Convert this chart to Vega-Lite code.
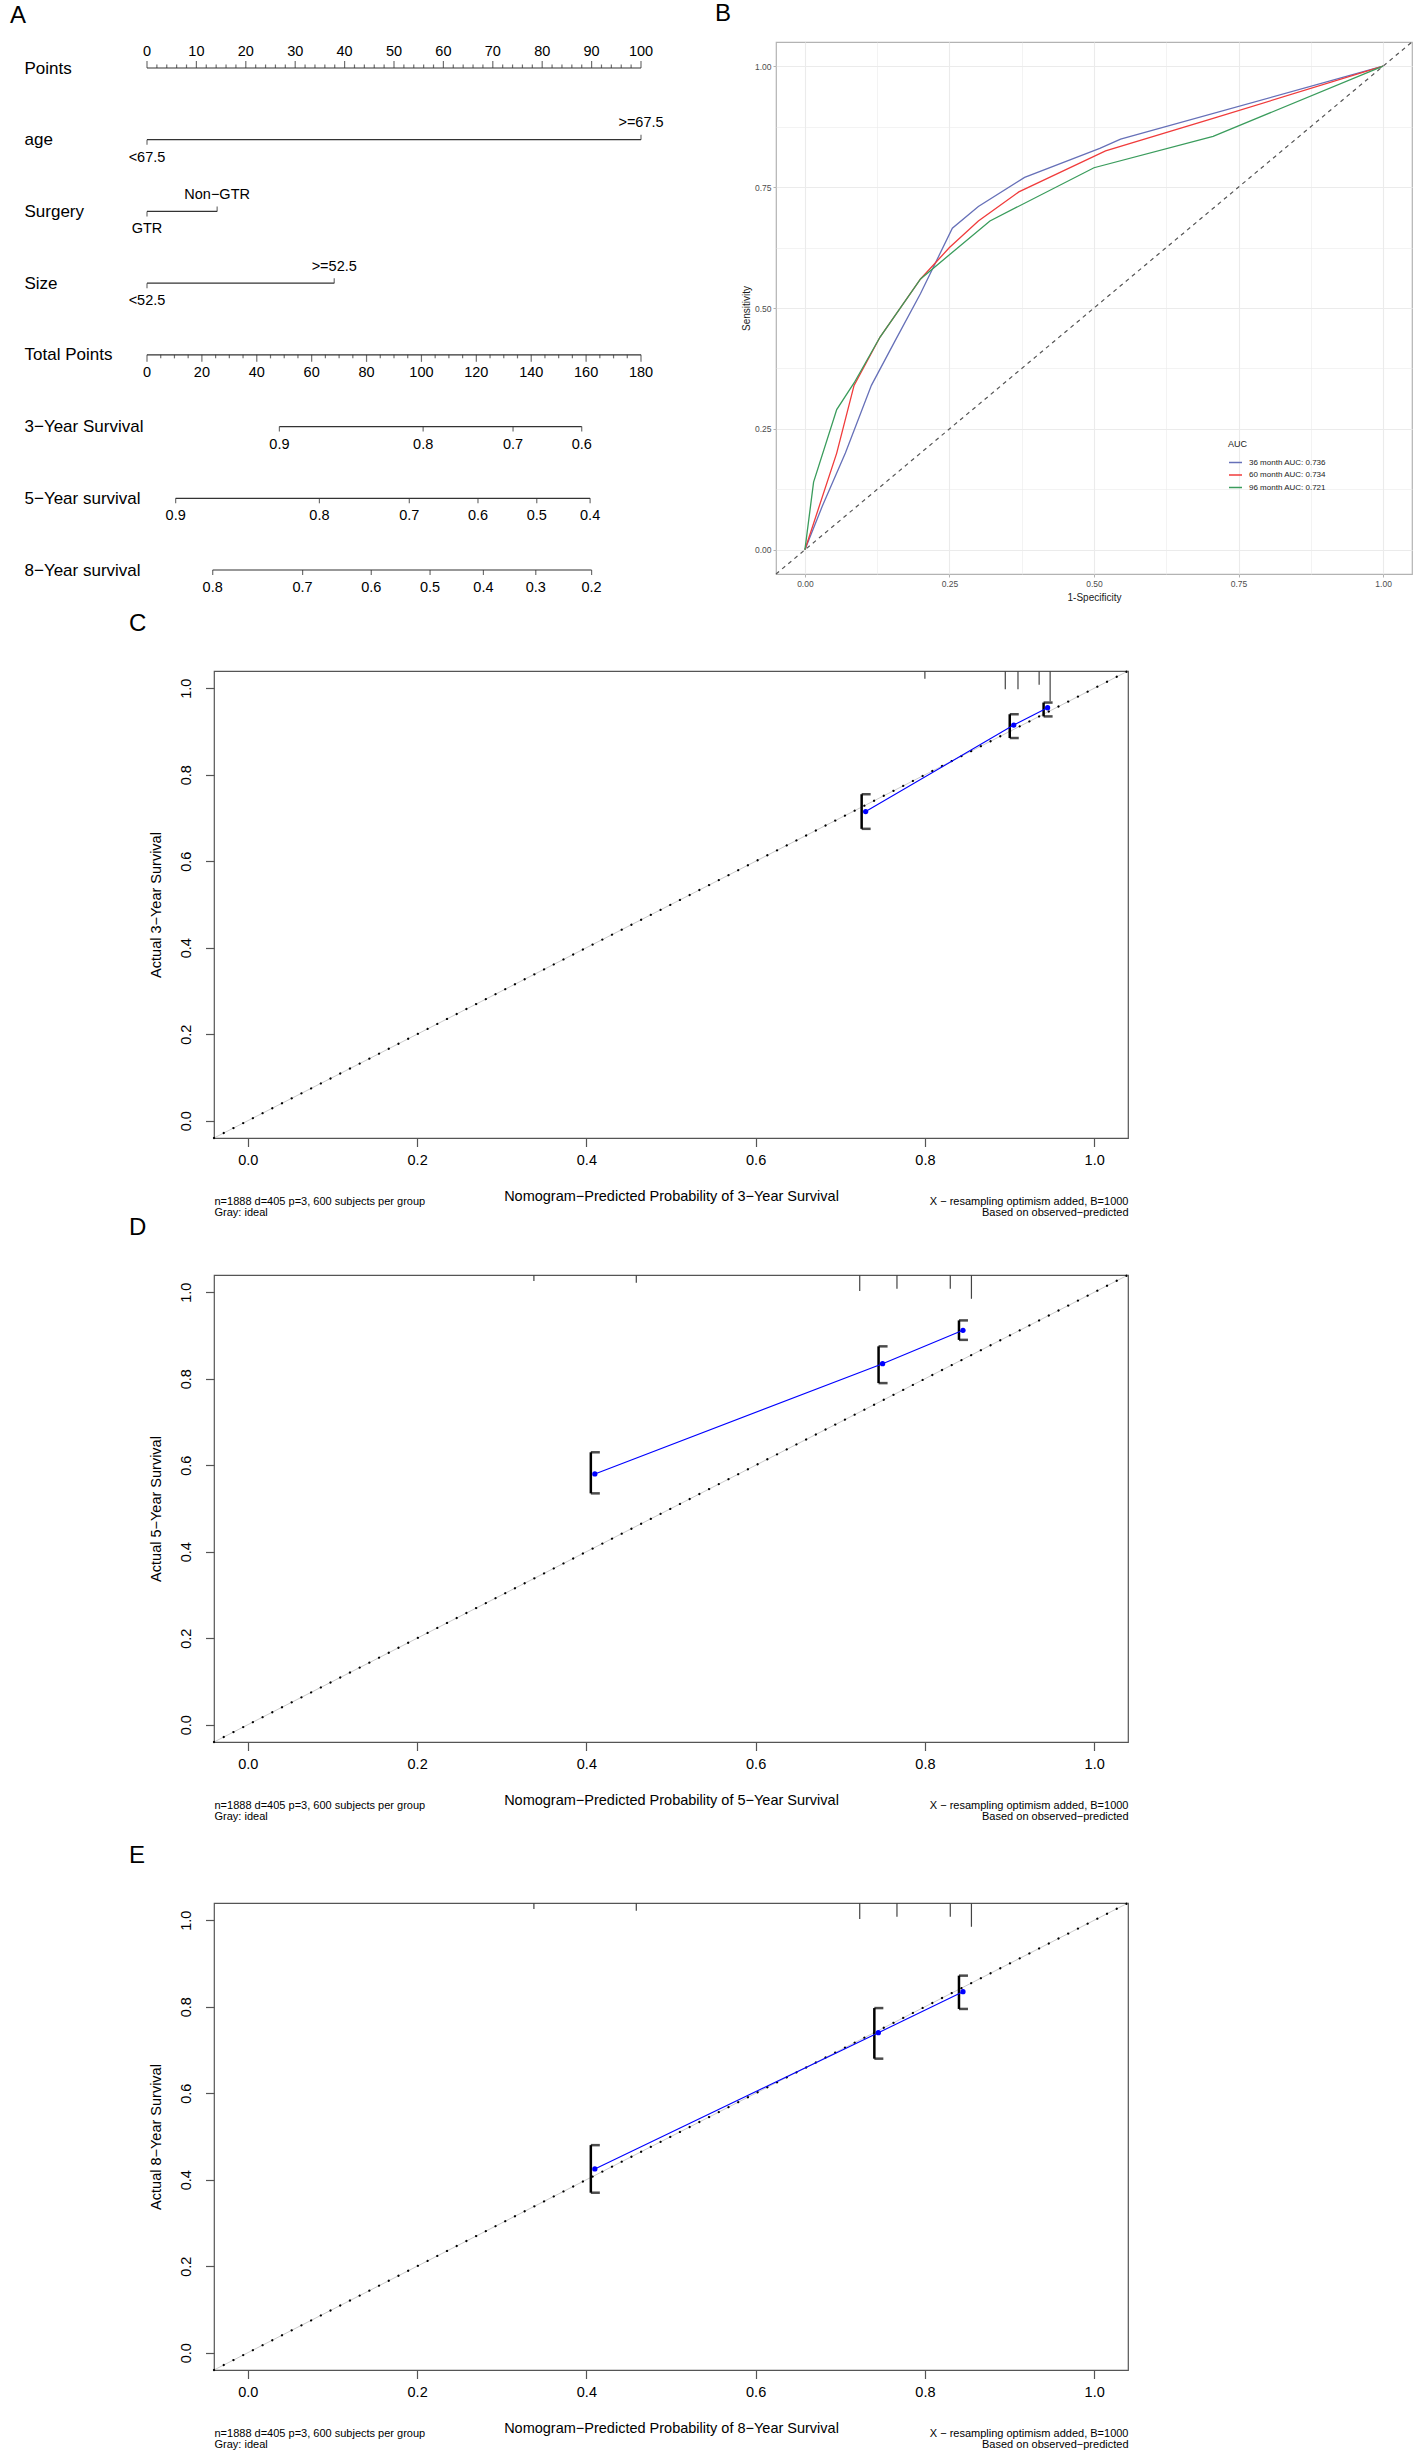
{
"$schema": "https://vega.github.io/schema/vega-lite/v6.json",
"background": "white",
"autosize": {"type": "pad"},
"padding": {"left": 10, "top": 1, "right": 0, "bottom": 0},
"bounds": "flush",
"spacing": 629,
"config": {
  "font": "Liberation Sans",
  "view": {"stroke": null},
  "axis": {"labelFont": "Liberation Sans", "titleFont": "Liberation Sans"},
  "title": {"font": "Liberation Sans"},
  "legend": {"labelFont": "Liberation Sans", "titleFont": "Liberation Sans"}
},
"datasets": {
  "nomoLines": [
    {"r":0,"start":0,"end":100},{"r":1,"start":0,"end":100},{"r":2,"start":0,"end":14.2},{"r":3,"start":0,"end":37.9},
    {"r":4,"start":0,"end":100},{"r":5,"start":26.8,"end":88.0},{"r":6,"start":5.8,"end":89.7},{"r":7,"start":13.3,"end":90.0}
  ],
  "nomoTicks": [
    {"r":0,"p":0,"k":"MU"},{"r":0,"p":2,"k":"mU"},{"r":0,"p":4,"k":"mU"},{"r":0,"p":6,"k":"mU"},{"r":0,"p":8,"k":"mU"},
    {"r":0,"p":10,"k":"MU"},{"r":0,"p":12,"k":"mU"},{"r":0,"p":14,"k":"mU"},{"r":0,"p":16,"k":"mU"},{"r":0,"p":18,"k":"mU"},
    {"r":0,"p":20,"k":"MU"},{"r":0,"p":22,"k":"mU"},{"r":0,"p":24,"k":"mU"},{"r":0,"p":26,"k":"mU"},{"r":0,"p":28,"k":"mU"},
    {"r":0,"p":30,"k":"MU"},{"r":0,"p":32,"k":"mU"},{"r":0,"p":34,"k":"mU"},{"r":0,"p":36,"k":"mU"},{"r":0,"p":38,"k":"mU"},
    {"r":0,"p":40,"k":"MU"},{"r":0,"p":42,"k":"mU"},{"r":0,"p":44,"k":"mU"},{"r":0,"p":46,"k":"mU"},{"r":0,"p":48,"k":"mU"},
    {"r":0,"p":50,"k":"MU"},{"r":0,"p":52,"k":"mU"},{"r":0,"p":54,"k":"mU"},{"r":0,"p":56,"k":"mU"},{"r":0,"p":58,"k":"mU"},
    {"r":0,"p":60,"k":"MU"},{"r":0,"p":62,"k":"mU"},{"r":0,"p":64,"k":"mU"},{"r":0,"p":66,"k":"mU"},{"r":0,"p":68,"k":"mU"},
    {"r":0,"p":70,"k":"MU"},{"r":0,"p":72,"k":"mU"},{"r":0,"p":74,"k":"mU"},{"r":0,"p":76,"k":"mU"},{"r":0,"p":78,"k":"mU"},
    {"r":0,"p":80,"k":"MU"},{"r":0,"p":82,"k":"mU"},{"r":0,"p":84,"k":"mU"},{"r":0,"p":86,"k":"mU"},{"r":0,"p":88,"k":"mU"},
    {"r":0,"p":90,"k":"MU"},{"r":0,"p":92,"k":"mU"},{"r":0,"p":94,"k":"mU"},{"r":0,"p":96,"k":"mU"},{"r":0,"p":98,"k":"mU"},
    {"r":0,"p":100,"k":"MU"},
    {"r":1,"p":0,"k":"CD"},{"r":1,"p":100,"k":"CU"},
    {"r":2,"p":0,"k":"CD"},{"r":2,"p":14.2,"k":"CU"},
    {"r":3,"p":0,"k":"CD"},{"r":3,"p":37.9,"k":"CU"},
    {"r":4,"p":0,"k":"MD"},{"r":4,"p":2.778,"k":"mD"},{"r":4,"p":5.556,"k":"mD"},{"r":4,"p":8.333,"k":"mD"},
    {"r":4,"p":11.111,"k":"MD"},{"r":4,"p":13.889,"k":"mD"},{"r":4,"p":16.667,"k":"mD"},{"r":4,"p":19.444,"k":"mD"},
    {"r":4,"p":22.222,"k":"MD"},{"r":4,"p":25,"k":"mD"},{"r":4,"p":27.778,"k":"mD"},{"r":4,"p":30.556,"k":"mD"},
    {"r":4,"p":33.333,"k":"MD"},{"r":4,"p":36.111,"k":"mD"},{"r":4,"p":38.889,"k":"mD"},{"r":4,"p":41.667,"k":"mD"},
    {"r":4,"p":44.444,"k":"MD"},{"r":4,"p":47.222,"k":"mD"},{"r":4,"p":50,"k":"mD"},{"r":4,"p":52.778,"k":"mD"},
    {"r":4,"p":55.556,"k":"MD"},{"r":4,"p":58.333,"k":"mD"},{"r":4,"p":61.111,"k":"mD"},{"r":4,"p":63.889,"k":"mD"},
    {"r":4,"p":66.667,"k":"MD"},{"r":4,"p":69.444,"k":"mD"},{"r":4,"p":72.222,"k":"mD"},{"r":4,"p":75,"k":"mD"},
    {"r":4,"p":77.778,"k":"MD"},{"r":4,"p":80.556,"k":"mD"},{"r":4,"p":83.333,"k":"mD"},{"r":4,"p":86.111,"k":"mD"},
    {"r":4,"p":88.889,"k":"MD"},{"r":4,"p":91.667,"k":"mD"},{"r":4,"p":94.444,"k":"mD"},{"r":4,"p":97.222,"k":"mD"},
    {"r":4,"p":100,"k":"MD"},
    {"r":5,"p":26.8,"k":"CD"},{"r":5,"p":55.9,"k":"CD"},{"r":5,"p":74.1,"k":"CD"},{"r":5,"p":88.0,"k":"CD"},
    {"r":6,"p":5.8,"k":"CD"},{"r":6,"p":34.9,"k":"CD"},{"r":6,"p":53.1,"k":"CD"},{"r":6,"p":67.0,"k":"CD"},{"r":6,"p":78.9,"k":"CD"},{"r":6,"p":89.7,"k":"CD"},
    {"r":7,"p":13.3,"k":"CD"},{"r":7,"p":31.5,"k":"CD"},{"r":7,"p":45.4,"k":"CD"},{"r":7,"p":57.3,"k":"CD"},{"r":7,"p":68.1,"k":"CD"},{"r":7,"p":78.7,"k":"CD"},{"r":7,"p":90.0,"k":"CD"}
  ],
  "nomoLabels": [
    {"r":0,"p":0,"t":"0","s":"a"},{"r":0,"p":10,"t":"10","s":"a"},{"r":0,"p":20,"t":"20","s":"a"},{"r":0,"p":30,"t":"30","s":"a"},
    {"r":0,"p":40,"t":"40","s":"a"},{"r":0,"p":50,"t":"50","s":"a"},{"r":0,"p":60,"t":"60","s":"a"},{"r":0,"p":70,"t":"70","s":"a"},
    {"r":0,"p":80,"t":"80","s":"a"},{"r":0,"p":90,"t":"90","s":"a"},{"r":0,"p":100,"t":"100","s":"a"},
    {"r":1,"p":0,"t":"<67.5","s":"b"},{"r":1,"p":100,"t":">=67.5","s":"a"},
    {"r":2,"p":0,"t":"GTR","s":"b"},{"r":2,"p":14.2,"t":"Non−GTR","s":"a"},
    {"r":3,"p":0,"t":"<52.5","s":"b"},{"r":3,"p":37.9,"t":">=52.5","s":"a"},
    {"r":4,"p":0,"t":"0","s":"b"},{"r":4,"p":11.111,"t":"20","s":"b"},{"r":4,"p":22.222,"t":"40","s":"b"},{"r":4,"p":33.333,"t":"60","s":"b"},
    {"r":4,"p":44.444,"t":"80","s":"b"},{"r":4,"p":55.556,"t":"100","s":"b"},{"r":4,"p":66.667,"t":"120","s":"b"},{"r":4,"p":77.778,"t":"140","s":"b"},
    {"r":4,"p":88.889,"t":"160","s":"b"},{"r":4,"p":100,"t":"180","s":"b"},
    {"r":5,"p":26.8,"t":"0.9","s":"b"},{"r":5,"p":55.9,"t":"0.8","s":"b"},{"r":5,"p":74.1,"t":"0.7","s":"b"},{"r":5,"p":88.0,"t":"0.6","s":"b"},
    {"r":6,"p":5.8,"t":"0.9","s":"b"},{"r":6,"p":34.9,"t":"0.8","s":"b"},{"r":6,"p":53.1,"t":"0.7","s":"b"},{"r":6,"p":67.0,"t":"0.6","s":"b"},{"r":6,"p":78.9,"t":"0.5","s":"b"},{"r":6,"p":89.7,"t":"0.4","s":"b"},
    {"r":7,"p":13.3,"t":"0.8","s":"b"},{"r":7,"p":31.5,"t":"0.7","s":"b"},{"r":7,"p":45.4,"t":"0.6","s":"b"},{"r":7,"p":57.3,"t":"0.5","s":"b"},{"r":7,"p":68.1,"t":"0.4","s":"b"},{"r":7,"p":78.7,"t":"0.3","s":"b"},{"r":7,"p":90.0,"t":"0.2","s":"b"}
  ],
  "roc": [
    {"curve":"36 month AUC: 0.736","fpr":0,"tpr":0,"i":0},{"curve":"36 month AUC: 0.736","fpr":0.03,"tpr":0.09,"i":1},
    {"curve":"36 month AUC: 0.736","fpr":0.07,"tpr":0.2,"i":2},{"curve":"36 month AUC: 0.736","fpr":0.115,"tpr":0.34,"i":3},
    {"curve":"36 month AUC: 0.736","fpr":0.155,"tpr":0.43,"i":4},{"curve":"36 month AUC: 0.736","fpr":0.2,"tpr":0.53,"i":5},
    {"curve":"36 month AUC: 0.736","fpr":0.255,"tpr":0.665,"i":6},{"curve":"36 month AUC: 0.736","fpr":0.3,"tpr":0.71,"i":7},
    {"curve":"36 month AUC: 0.736","fpr":0.38,"tpr":0.77,"i":8},{"curve":"36 month AUC: 0.736","fpr":0.51,"tpr":0.83,"i":9},
    {"curve":"36 month AUC: 0.736","fpr":0.546,"tpr":0.849,"i":10},{"curve":"36 month AUC: 0.736","fpr":1,"tpr":1,"i":11},
    {"curve":"60 month AUC: 0.734","fpr":0,"tpr":0,"i":0},{"curve":"60 month AUC: 0.734","fpr":0.055,"tpr":0.2,"i":1},
    {"curve":"60 month AUC: 0.734","fpr":0.085,"tpr":0.34,"i":2},{"curve":"60 month AUC: 0.734","fpr":0.13,"tpr":0.44,"i":3},
    {"curve":"60 month AUC: 0.734","fpr":0.2,"tpr":0.56,"i":4},{"curve":"60 month AUC: 0.734","fpr":0.25,"tpr":0.625,"i":5},
    {"curve":"60 month AUC: 0.734","fpr":0.3,"tpr":0.68,"i":6},{"curve":"60 month AUC: 0.734","fpr":0.37,"tpr":0.74,"i":7},
    {"curve":"60 month AUC: 0.734","fpr":0.52,"tpr":0.825,"i":8},{"curve":"60 month AUC: 0.734","fpr":0.706,"tpr":0.892,"i":9},
    {"curve":"60 month AUC: 0.734","fpr":1,"tpr":1,"i":10},
    {"curve":"96 month AUC: 0.721","fpr":0,"tpr":0,"i":0},{"curve":"96 month AUC: 0.721","fpr":0.015,"tpr":0.14,"i":1},
    {"curve":"96 month AUC: 0.721","fpr":0.055,"tpr":0.29,"i":2},{"curve":"96 month AUC: 0.721","fpr":0.085,"tpr":0.345,"i":3},
    {"curve":"96 month AUC: 0.721","fpr":0.13,"tpr":0.44,"i":4},{"curve":"96 month AUC: 0.721","fpr":0.2,"tpr":0.56,"i":5},
    {"curve":"96 month AUC: 0.721","fpr":0.25,"tpr":0.61,"i":6},{"curve":"96 month AUC: 0.721","fpr":0.32,"tpr":0.68,"i":7},
    {"curve":"96 month AUC: 0.721","fpr":0.5,"tpr":0.79,"i":8},{"curve":"96 month AUC: 0.721","fpr":0.706,"tpr":0.855,"i":9},
    {"curve":"96 month AUC: 0.721","fpr":1,"tpr":1,"i":10}
  ],
  "diag": [{"fpr":-0.05,"tpr":-0.05},{"fpr":1.05,"tpr":1.05}],
  "ideal": [{"x":-0.04,"y":-0.04},{"x":1.04,"y":1.04}],
  "calC": [{"x":0.73,"y":0.715,"lo":0.675,"hi":0.755},{"x":0.905,"y":0.915,"lo":0.885,"hi":0.94},{"x":0.945,"y":0.955,"lo":0.935,"hi":0.967}],
  "calD": [{"x":0.41,"y":0.58,"lo":0.535,"hi":0.63},{"x":0.75,"y":0.835,"lo":0.79,"hi":0.875},{"x":0.845,"y":0.912,"lo":0.89,"hi":0.935}],
  "calE": [{"x":0.41,"y":0.425,"lo":0.37,"hi":0.48},{"x":0.745,"y":0.74,"lo":0.68,"hi":0.797},{"x":0.845,"y":0.835,"lo":0.795,"hi":0.872}],
  "rugC": [{"x":0.8,"top":1.04,"end":1.022},{"x":0.895,"top":1.04,"end":0.998},{"x":0.91,"top":1.04,"end":0.998},{"x":0.935,"top":1.04,"end":1.008},{"x":0.948,"top":1.04,"end":0.97}],
  "rugD": [{"x":0.338,"top":1.04,"end":1.026},{"x":0.459,"top":1.04,"end":1.022},{"x":0.723,"top":1.04,"end":1.003},{"x":0.767,"top":1.04,"end":1.008},{"x":0.83,"top":1.04,"end":1.008},{"x":0.855,"top":1.04,"end":0.985}],
  "rugE": [{"x":0.338,"top":1.04,"end":1.026},{"x":0.459,"top":1.04,"end":1.022},{"x":0.723,"top":1.04,"end":1.003},{"x":0.767,"top":1.04,"end":1.008},{"x":0.83,"top":1.04,"end":1.008},{"x":0.855,"top":1.04,"end":0.985}]
},
"vconcat": [
{
  "bounds": "flush",
  "spacing": 82,
  "hconcat": [
  {
    "width": 480, "height": 532,
    "title": {"text": "A", "anchor": "start", "frame": "group", "dx": -204, "dy": 22, "offset": 17, "baseline": "alphabetic", "fontSize": 24, "fontWeight": "normal", "color": "black"},
    "encoding": {
      "x": {"field": "p", "type": "quantitative", "scale": {"domain": [13.563, 110.729], "nice": false, "zero": false}, "axis": null},
      "y": {"field": "r", "type": "quantitative", "scale": {"domain": [-0.36255, 7.0557], "reverse": true, "nice": false, "zero": false},
            "axis": {"values": [0,1,2,3,4,5,6,7], "labelExpr": "['Points','age','Surgery','Size','Total Points','3−Year Survival','5−Year survival','8−Year survival'][datum.value]",
                     "domain": false, "ticks": false, "tickSize": 0, "grid": false, "labelAlign": "left", "labelBaseline": "middle", "labelPadding": 190,
                     "labelFontSize": 17, "labelColor": "black", "labelOverlap": false, "labelFlush": false, "title": null}}
    },
    "layer": [
      {"data": {"name": "nomoLines"}, "mark": {"type": "rule", "color": "#333333", "strokeWidth": 1.2},
       "encoding": {"x": {"field": "start", "type": "quantitative", "axis": null}, "x2": {"field": "end"}}},
      {"data": {"name": "nomoTicks"}, "transform": [{"filter": "datum.k === 'MU'"}],
       "mark": {"type": "tick", "orient": "vertical", "size": 7, "thickness": 1.2, "color": "#333333", "yOffset": -3.5}},
      {"data": {"name": "nomoTicks"}, "transform": [{"filter": "datum.k === 'mU'"}],
       "mark": {"type": "tick", "orient": "vertical", "size": 3.5, "thickness": 1.2, "color": "#333333", "yOffset": -1.75}},
      {"data": {"name": "nomoTicks"}, "transform": [{"filter": "datum.k === 'MD'"}],
       "mark": {"type": "tick", "orient": "vertical", "size": 7, "thickness": 1.2, "color": "#333333", "yOffset": 3.5}},
      {"data": {"name": "nomoTicks"}, "transform": [{"filter": "datum.k === 'mD'"}],
       "mark": {"type": "tick", "orient": "vertical", "size": 3.5, "thickness": 1.2, "color": "#333333", "yOffset": 1.75}},
      {"data": {"name": "nomoTicks"}, "transform": [{"filter": "datum.k === 'CU'"}],
       "mark": {"type": "tick", "orient": "vertical", "size": 5, "thickness": 1.2, "color": "#333333", "yOffset": -2.5}},
      {"data": {"name": "nomoTicks"}, "transform": [{"filter": "datum.k === 'CD'"}],
       "mark": {"type": "tick", "orient": "vertical", "size": 5, "thickness": 1.2, "color": "#333333", "yOffset": 2.5}},
      {"data": {"name": "nomoLabels"}, "transform": [{"filter": "datum.s === 'a'"}],
       "mark": {"type": "text", "fontSize": 14.5, "color": "black", "align": "center", "baseline": "middle", "dy": -16.5},
       "encoding": {"text": {"field": "t"}}},
      {"data": {"name": "nomoLabels"}, "transform": [{"filter": "datum.s === 'b'"}],
       "mark": {"type": "text", "fontSize": 14.5, "color": "black", "align": "center", "baseline": "middle", "dy": 18},
       "encoding": {"text": {"field": "t"}}}
    ]
  },
  {
    "width": 636, "height": 532,
    "title": {"text": "B", "anchor": "start", "frame": "group", "dx": -61, "dy": 22, "offset": 17, "baseline": "alphabetic", "fontSize": 24, "fontWeight": "normal", "color": "black"},
    "view": {"stroke": "#b3b3b3", "strokeWidth": 1.2},
    "encoding": {
      "x": {"field": "fpr", "type": "quantitative", "scale": {"domain": [-0.05, 1.05], "nice": false, "zero": false},
            "axis": {"orient": "bottom", "values": [0,0.125,0.25,0.375,0.5,0.625,0.75,0.875,1],
                     "labelExpr": "indexof([0,0.25,0.5,0.75,1], datum.value) >= 0 ? format(datum.value, '.2f') : ''",
                     "grid": true, "gridColor": "#ebebeb",
                     "gridWidth": {"condition": {"test": "indexof([0,0.25,0.5,0.75,1], datum.value) >= 0", "value": 1.1}, "value": 0.6},
                     "domain": false, "tickSize": 3,
                     "tickColor": {"condition": {"test": "indexof([0,0.25,0.5,0.75,1], datum.value) >= 0", "value": "#b3b3b3"}, "value": "rgba(0,0,0,0)"},
                     "labelFontSize": 8.5, "labelColor": "#4d4d4d", "labelPadding": 2, "labelFlush": false, "labelOverlap": false,
                     "title": "1-Specificity", "titleFontSize": 10, "titleFontWeight": "normal", "titleColor": "#1a1a1a", "titlePadding": 5}},
      "y": {"field": "tpr", "type": "quantitative", "scale": {"domain": [-0.05, 1.05], "nice": false, "zero": false},
            "axis": {"orient": "left", "values": [0,0.125,0.25,0.375,0.5,0.625,0.75,0.875,1],
                     "labelExpr": "indexof([0,0.25,0.5,0.75,1], datum.value) >= 0 ? format(datum.value, '.2f') : ''",
                     "grid": true, "gridColor": "#ebebeb",
                     "gridWidth": {"condition": {"test": "indexof([0,0.25,0.5,0.75,1], datum.value) >= 0", "value": 1.1}, "value": 0.6},
                     "domain": false, "tickSize": 3,
                     "tickColor": {"condition": {"test": "indexof([0,0.25,0.5,0.75,1], datum.value) >= 0", "value": "#b3b3b3"}, "value": "rgba(0,0,0,0)"},
                     "labelFontSize": 8.5, "labelColor": "#4d4d4d", "labelPadding": 2, "labelOverlap": false,
                     "title": "Sensitivity", "titleFontSize": 10, "titleFontWeight": "normal", "titleColor": "#1a1a1a", "titlePadding": 3}}
    },
    "layer": [
      {"data": {"name": "roc"}, "mark": {"type": "line", "strokeWidth": 1.3},
       "encoding": {
         "color": {"field": "curve", "type": "nominal",
                   "scale": {"domain": ["36 month AUC: 0.736", "60 month AUC: 0.734", "96 month AUC: 0.721"], "range": ["#6670b8", "#f03b3b", "#3a9c5c"]},
                   "legend": {"title": "AUC", "orient": "none", "legendX": 1014, "legendY": 398, "symbolType": "stroke", "symbolStrokeWidth": 1.5,
                              "symbolSize": 170, "labelFontSize": 8, "labelColor": "#1a1a1a", "titleFontSize": 9, "titleFontWeight": "normal",
                              "titleColor": "#1a1a1a", "rowPadding": 0.5, "titlePadding": 6, "labelOffset": 6}},
         "order": {"field": "i", "type": "quantitative"}
       }},
      {"data": {"name": "diag"}, "mark": {"type": "line", "color": "#555555", "strokeWidth": 1.2, "strokeDash": [4, 4]}}
    ]
  }
  ]
},
{
  "bounds": "flush",
  "spacing": 137,
  "vconcat": [
  {
    "width": 914, "height": 467,
    "title": {"text": "C", "anchor": "start", "frame": "group", "dx": -85, "dy": -11, "offset": 1, "baseline": "alphabetic", "fontSize": 24, "fontWeight": "normal", "color": "black"},
    "view": {"stroke": "#555555", "strokeWidth": 1.2},
    "resolve": {"axis": {"x": "independent"}},
    "layer": [
      {"data": {"name": "ideal"}, "mark": {"type": "line", "color": "#cccccc", "strokeWidth": 1},
       "encoding": {
         "x": {"field": "x", "type": "quantitative", "scale": {"domain": [-0.04, 1.04], "nice": false, "zero": false},
               "axis": {"orient": "bottom", "values": [0,0.2,0.4,0.6,0.8,1], "format": ".1f", "domain": false, "grid": false, "tickSize": 8.5, "tickColor": "#555555", "tickWidth": 1.2,
                        "labelFontSize": 14.5, "labelColor": "black", "labelPadding": 7.25, "labelFlush": false,
                        "title": "Nomogram−Predicted Probability of 3−Year Survival", "titleFontSize": 14.5, "titleFontWeight": "normal", "titleColor": "black",
                        "titleX": 457, "titleY": 58, "titleAlign": "center", "titleBaseline": "middle"}},
         "y": {"field": "y", "type": "quantitative", "scale": {"domain": [-0.04, 1.04], "nice": false, "zero": false},
               "axis": {"orient": "left", "values": [0,0.2,0.4,0.6,0.8,1], "format": ".1f", "domain": false, "grid": false, "tickSize": 8.5, "tickColor": "#555555", "tickWidth": 1.2,
                        "labelFontSize": 14.5, "labelColor": "black", "labelAngle": 270, "labelAlign": "center", "labelBaseline": "bottom", "labelPadding": 12.5,
                        "title": "Actual 3−Year Survival", "titleFontSize": 14.5, "titleFontWeight": "normal", "titleColor": "black",
                        "titleAngle": 270, "titleX": -58, "titleY": 233.5, "titleAlign": "center", "titleBaseline": "middle"}}
       }},
      {"data": {"name": "ideal"}, "mark": {"type": "line", "color": "black", "strokeWidth": 2.2, "strokeCap": "round", "strokeDash": [0.1, 10.8]},
       "encoding": {
         "x": {"field": "x", "type": "quantitative",
               "axis": {"orient": "bottom", "labels": false, "ticks": false, "domain": false, "grid": false,
                        "title": ["n=1888 d=405 p=3, 600 subjects per group", "Gray: ideal"], "titleFontSize": 11, "titleFontWeight": "normal", "titleColor": "black",
                        "titleX": 0, "titleY": 57, "titleAlign": "left", "titleBaseline": "top", "titleLineHeight": 11}},
         "y": {"field": "y", "type": "quantitative"}
       }},
      {"data": {"name": "rugC"}, "mark": {"type": "rule", "color": "#444444", "strokeWidth": 1.2},
       "encoding": {
         "x": {"field": "x", "type": "quantitative",
               "axis": {"orient": "bottom", "labels": false, "ticks": false, "domain": false, "grid": false,
                        "title": ["X − resampling optimism added, B=1000", "Based on observed−predicted"], "titleFontSize": 11, "titleFontWeight": "normal", "titleColor": "black",
                        "titleX": 914, "titleY": 57, "titleAlign": "right", "titleBaseline": "top", "titleLineHeight": 11}},
         "y": {"field": "top", "type": "quantitative"},
         "y2": {"field": "end"}
       }},
      {"data": {"name": "calC"}, "mark": {"type": "rule", "color": "black", "strokeWidth": 2.5, "xOffset": -4},
       "encoding": {"x": {"field": "x", "type": "quantitative", "axis": null}, "y": {"field": "lo", "type": "quantitative"}, "y2": {"field": "hi"}}},
      {"data": {"name": "calC"}, "mark": {"type": "tick", "orient": "horizontal", "size": 9, "thickness": 2.5, "color": "black", "xOffset": 0.5},
       "encoding": {"x": {"field": "x", "type": "quantitative", "axis": null}, "y": {"field": "lo", "type": "quantitative"}}},
      {"data": {"name": "calC"}, "mark": {"type": "tick", "orient": "horizontal", "size": 9, "thickness": 2.5, "color": "black", "xOffset": 0.5},
       "encoding": {"x": {"field": "x", "type": "quantitative", "axis": null}, "y": {"field": "hi", "type": "quantitative"}}},
      {"data": {"name": "calC"}, "mark": {"type": "line", "color": "#0000ff", "strokeWidth": 1.1},
       "encoding": {"x": {"field": "x", "type": "quantitative", "axis": null}, "y": {"field": "y", "type": "quantitative"}}},
      {"data": {"name": "calC"}, "mark": {"type": "point", "filled": true, "color": "#0000ff", "size": 28, "opacity": 1},
       "encoding": {"x": {"field": "x", "type": "quantitative", "axis": null}, "y": {"field": "y", "type": "quantitative"}}}
    ]
  },
  {
  "bounds": "flush",
  "spacing": 161,
  "vconcat": [
  {
    "width": 914, "height": 467,
    "title": {"text": "D", "anchor": "start", "frame": "group", "dx": -85, "dy": -11, "offset": 1, "baseline": "alphabetic", "fontSize": 24, "fontWeight": "normal", "color": "black"},
    "view": {"stroke": "#555555", "strokeWidth": 1.2},
    "resolve": {"axis": {"x": "independent"}},
    "layer": [
      {"data": {"name": "ideal"}, "mark": {"type": "line", "color": "#cccccc", "strokeWidth": 1},
       "encoding": {
         "x": {"field": "x", "type": "quantitative", "scale": {"domain": [-0.04, 1.04], "nice": false, "zero": false},
               "axis": {"orient": "bottom", "values": [0,0.2,0.4,0.6,0.8,1], "format": ".1f", "domain": false, "grid": false, "tickSize": 8.5, "tickColor": "#555555", "tickWidth": 1.2,
                        "labelFontSize": 14.5, "labelColor": "black", "labelPadding": 7.25, "labelFlush": false,
                        "title": "Nomogram−Predicted Probability of 5−Year Survival", "titleFontSize": 14.5, "titleFontWeight": "normal", "titleColor": "black",
                        "titleX": 457, "titleY": 58, "titleAlign": "center", "titleBaseline": "middle"}},
         "y": {"field": "y", "type": "quantitative", "scale": {"domain": [-0.04, 1.04], "nice": false, "zero": false},
               "axis": {"orient": "left", "values": [0,0.2,0.4,0.6,0.8,1], "format": ".1f", "domain": false, "grid": false, "tickSize": 8.5, "tickColor": "#555555", "tickWidth": 1.2,
                        "labelFontSize": 14.5, "labelColor": "black", "labelAngle": 270, "labelAlign": "center", "labelBaseline": "bottom", "labelPadding": 12.5,
                        "title": "Actual 5−Year Survival", "titleFontSize": 14.5, "titleFontWeight": "normal", "titleColor": "black",
                        "titleAngle": 270, "titleX": -58, "titleY": 233.5, "titleAlign": "center", "titleBaseline": "middle"}}
       }},
      {"data": {"name": "ideal"}, "mark": {"type": "line", "color": "black", "strokeWidth": 2.2, "strokeCap": "round", "strokeDash": [0.1, 10.8]},
       "encoding": {
         "x": {"field": "x", "type": "quantitative",
               "axis": {"orient": "bottom", "labels": false, "ticks": false, "domain": false, "grid": false,
                        "title": ["n=1888 d=405 p=3, 600 subjects per group", "Gray: ideal"], "titleFontSize": 11, "titleFontWeight": "normal", "titleColor": "black",
                        "titleX": 0, "titleY": 57, "titleAlign": "left", "titleBaseline": "top", "titleLineHeight": 11}},
         "y": {"field": "y", "type": "quantitative"}
       }},
      {"data": {"name": "rugD"}, "mark": {"type": "rule", "color": "#444444", "strokeWidth": 1.2},
       "encoding": {
         "x": {"field": "x", "type": "quantitative",
               "axis": {"orient": "bottom", "labels": false, "ticks": false, "domain": false, "grid": false,
                        "title": ["X − resampling optimism added, B=1000", "Based on observed−predicted"], "titleFontSize": 11, "titleFontWeight": "normal", "titleColor": "black",
                        "titleX": 914, "titleY": 57, "titleAlign": "right", "titleBaseline": "top", "titleLineHeight": 11}},
         "y": {"field": "top", "type": "quantitative"},
         "y2": {"field": "end"}
       }},
      {"data": {"name": "calD"}, "mark": {"type": "rule", "color": "black", "strokeWidth": 2.5, "xOffset": -4},
       "encoding": {"x": {"field": "x", "type": "quantitative", "axis": null}, "y": {"field": "lo", "type": "quantitative"}, "y2": {"field": "hi"}}},
      {"data": {"name": "calD"}, "mark": {"type": "tick", "orient": "horizontal", "size": 9, "thickness": 2.5, "color": "black", "xOffset": 0.5},
       "encoding": {"x": {"field": "x", "type": "quantitative", "axis": null}, "y": {"field": "lo", "type": "quantitative"}}},
      {"data": {"name": "calD"}, "mark": {"type": "tick", "orient": "horizontal", "size": 9, "thickness": 2.5, "color": "black", "xOffset": 0.5},
       "encoding": {"x": {"field": "x", "type": "quantitative", "axis": null}, "y": {"field": "hi", "type": "quantitative"}}},
      {"data": {"name": "calD"}, "mark": {"type": "line", "color": "#0000ff", "strokeWidth": 1.1},
       "encoding": {"x": {"field": "x", "type": "quantitative", "axis": null}, "y": {"field": "y", "type": "quantitative"}}},
      {"data": {"name": "calD"}, "mark": {"type": "point", "filled": true, "color": "#0000ff", "size": 28, "opacity": 1},
       "encoding": {"x": {"field": "x", "type": "quantitative", "axis": null}, "y": {"field": "y", "type": "quantitative"}}}
    ]
  },
  {
    "width": 914, "height": 467,
    "title": {"text": "E", "anchor": "start", "frame": "group", "dx": -85, "dy": -11, "offset": 1, "baseline": "alphabetic", "fontSize": 24, "fontWeight": "normal", "color": "black"},
    "view": {"stroke": "#555555", "strokeWidth": 1.2},
    "resolve": {"axis": {"x": "independent"}},
    "layer": [
      {"data": {"name": "ideal"}, "mark": {"type": "line", "color": "#cccccc", "strokeWidth": 1},
       "encoding": {
         "x": {"field": "x", "type": "quantitative", "scale": {"domain": [-0.04, 1.04], "nice": false, "zero": false},
               "axis": {"orient": "bottom", "values": [0,0.2,0.4,0.6,0.8,1], "format": ".1f", "domain": false, "grid": false, "tickSize": 8.5, "tickColor": "#555555", "tickWidth": 1.2,
                        "labelFontSize": 14.5, "labelColor": "black", "labelPadding": 7.25, "labelFlush": false,
                        "title": "Nomogram−Predicted Probability of 8−Year Survival", "titleFontSize": 14.5, "titleFontWeight": "normal", "titleColor": "black",
                        "titleX": 457, "titleY": 58, "titleAlign": "center", "titleBaseline": "middle"}},
         "y": {"field": "y", "type": "quantitative", "scale": {"domain": [-0.04, 1.04], "nice": false, "zero": false},
               "axis": {"orient": "left", "values": [0,0.2,0.4,0.6,0.8,1], "format": ".1f", "domain": false, "grid": false, "tickSize": 8.5, "tickColor": "#555555", "tickWidth": 1.2,
                        "labelFontSize": 14.5, "labelColor": "black", "labelAngle": 270, "labelAlign": "center", "labelBaseline": "bottom", "labelPadding": 12.5,
                        "title": "Actual 8−Year Survival", "titleFontSize": 14.5, "titleFontWeight": "normal", "titleColor": "black",
                        "titleAngle": 270, "titleX": -58, "titleY": 233.5, "titleAlign": "center", "titleBaseline": "middle"}}
       }},
      {"data": {"name": "ideal"}, "mark": {"type": "line", "color": "black", "strokeWidth": 2.2, "strokeCap": "round", "strokeDash": [0.1, 10.8]},
       "encoding": {
         "x": {"field": "x", "type": "quantitative",
               "axis": {"orient": "bottom", "labels": false, "ticks": false, "domain": false, "grid": false,
                        "title": ["n=1888 d=405 p=3, 600 subjects per group", "Gray: ideal"], "titleFontSize": 11, "titleFontWeight": "normal", "titleColor": "black",
                        "titleX": 0, "titleY": 57, "titleAlign": "left", "titleBaseline": "top", "titleLineHeight": 11}},
         "y": {"field": "y", "type": "quantitative"}
       }},
      {"data": {"name": "rugE"}, "mark": {"type": "rule", "color": "#444444", "strokeWidth": 1.2},
       "encoding": {
         "x": {"field": "x", "type": "quantitative",
               "axis": {"orient": "bottom", "labels": false, "ticks": false, "domain": false, "grid": false,
                        "title": ["X − resampling optimism added, B=1000", "Based on observed−predicted"], "titleFontSize": 11, "titleFontWeight": "normal", "titleColor": "black",
                        "titleX": 914, "titleY": 57, "titleAlign": "right", "titleBaseline": "top", "titleLineHeight": 11}},
         "y": {"field": "top", "type": "quantitative"},
         "y2": {"field": "end"}
       }},
      {"data": {"name": "calE"}, "mark": {"type": "rule", "color": "black", "strokeWidth": 2.5, "xOffset": -4},
       "encoding": {"x": {"field": "x", "type": "quantitative", "axis": null}, "y": {"field": "lo", "type": "quantitative"}, "y2": {"field": "hi"}}},
      {"data": {"name": "calE"}, "mark": {"type": "tick", "orient": "horizontal", "size": 9, "thickness": 2.5, "color": "black", "xOffset": 0.5},
       "encoding": {"x": {"field": "x", "type": "quantitative", "axis": null}, "y": {"field": "lo", "type": "quantitative"}}},
      {"data": {"name": "calE"}, "mark": {"type": "tick", "orient": "horizontal", "size": 9, "thickness": 2.5, "color": "black", "xOffset": 0.5},
       "encoding": {"x": {"field": "x", "type": "quantitative", "axis": null}, "y": {"field": "hi", "type": "quantitative"}}},
      {"data": {"name": "calE"}, "mark": {"type": "line", "color": "#0000ff", "strokeWidth": 1.1},
       "encoding": {"x": {"field": "x", "type": "quantitative", "axis": null}, "y": {"field": "y", "type": "quantitative"}}},
      {"data": {"name": "calE"}, "mark": {"type": "point", "filled": true, "color": "#0000ff", "size": 28, "opacity": 1},
       "encoding": {"x": {"field": "x", "type": "quantitative", "axis": null}, "y": {"field": "y", "type": "quantitative"}}}
    ]
  }
  ]
  }
  ]
}
]
}
